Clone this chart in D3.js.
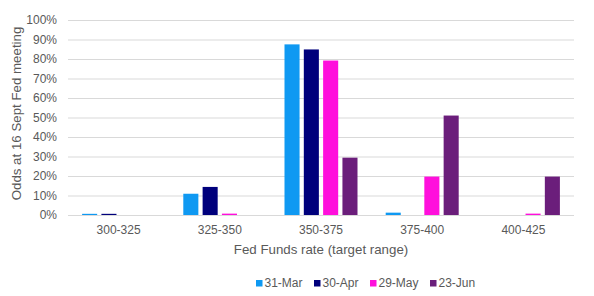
<!DOCTYPE html>
<html>
<head>
<meta charset="utf-8">
<script src="https://cdn.jsdelivr.net/npm/d3@7"></script>
<style>
  body { margin: 0; background: #fff; }
  text { font-family: "Liberation Sans", Arial, sans-serif; fill: #595959; }
</style>
</head>
<body>
<div id="chart"></div>
<script>
// categories and series
const ranges = ["300-325", "325-350", "350-375", "375-400", "400-425"];
const dates = ["31-Mar", "30-Apr", "29-May", "23-Jun"];
const colors = ["#0f99f2", "#00007c", "#ff0fdc", "#6b1e7b"];

// odds (%) per date, one value per range
const mar31 = [0.6, 10.9, 87.5, 1.2, 0];
const apr30 = [0.6, 14.4, 84.9, 0, 0];
const may29 = [0, 0.7, 79.2, 19.7, 0.7];
const jun23 = [0, 0, 29.4, 51.0, 19.7];
const series = [mar31, apr30, may29, jun23];

const yTicks = [0, 10, 20, 30, 40, 50, 60, 70, 80, 90, 100];

var margin = {top: 20, right: 20, bottom: 81, left: 68},
    width = 594 - margin.left - margin.right,
    height = 296 - margin.top - margin.bottom;

var svg = d3.select("#chart")
    .append("svg")
    .attr("width", 594)
    .attr("height", 296)
    .append("g")
    .attr("transform", `translate(${margin.left},${margin.top})`);

const x0 = d3.scaleBand().domain(ranges).range([0, width]);
const x1 = d3.scaleBand().domain(dates).range([0, 73]).paddingInner(0.22);
const y = d3.scaleLinear().domain([0, 100]).range([height, 0]);

// gridlines
svg.append("g")
    .selectAll("line")
    .data(yTicks)
    .join("line")
    .attr("x1", 0)
    .attr("x2", width)
    .attr("y1", d => y(d) + 0.5)
    .attr("y2", d => y(d) + 0.5)
    .attr("stroke", "#d9d9d9")
    .attr("stroke-width", 1);

// y labels
svg.append("g")
    .selectAll("text")
    .data(yTicks)
    .join("text")
    .attr("x", -11)
    .attr("y", d => y(d))
    .attr("dy", "0.35em")
    .attr("text-anchor", "end")
    .style("font-size", "12px")
    .text(d => d + "%");

// bars: flatten series into {range, date, value}
const bars = [];
series.forEach((vals, si) => {
    vals.forEach((v, ri) => {
        if (v > 0) bars.push({range: ranges[ri], date: dates[si], value: v, color: colors[si]});
    });
});

svg.append("g")
    .selectAll("rect")
    .data(bars)
    .join("rect")
    .attr("x", d => x0(d.range) + (x0.bandwidth() - 73) / 2 + x1(d.date))
    .attr("y", d => y(d.value))
    .attr("width", x1.bandwidth())
    .attr("height", d => y(0) - y(d.value))
    .attr("fill", d => d.color);

// x labels
svg.append("g")
    .selectAll("text")
    .data(ranges)
    .join("text")
    .attr("x", d => x0(d) + x0.bandwidth() / 2)
    .attr("y", height + 15)
    .attr("dy", "0.35em")
    .attr("text-anchor", "middle")
    .style("font-size", "12px")
    .text(d => d);

// axis titles
svg.append("text")
    .attr("x", width / 2)
    .attr("y", height + 34)
    .attr("dy", "0.35em")
    .attr("text-anchor", "middle")
    .style("font-size", "13.3px")
    .text("Fed Funds rate (target range)");

svg.append("text")
    .attr("transform", `translate(${-52},${height / 2 - 4}) rotate(-90)`)
    .attr("dy", "0.35em")
    .attr("text-anchor", "middle")
    .style("font-size", "13.3px")
    .text("Odds at 16 Sept Fed meeting");

// legend
const legendX = [256, 314, 370, 430];
const legend = svg.append("g")
    .attr("transform", `translate(${-margin.left},${height + 68})`);

const item = legend.selectAll("g")
    .data(dates)
    .join("g")
    .attr("transform", (d, i) => `translate(${legendX[i]},0)`);

item.append("rect")
    .attr("x", 0)
    .attr("y", -3)
    .attr("width", 6.5)
    .attr("height", 6.5)
    .attr("fill", (d, i) => colors[i]);

item.append("text")
    .attr("x", 8.5)
    .attr("y", 0)
    .attr("dy", "0.35em")
    .style("font-size", "12px")
    .text(d => d);
</script>
</body>
</html>
